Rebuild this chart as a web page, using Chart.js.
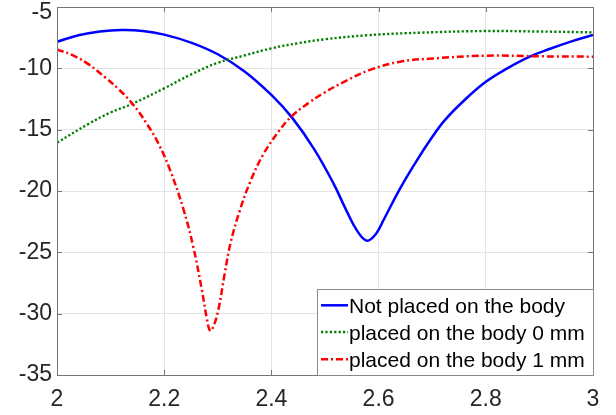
<!DOCTYPE html>
<html><head><meta charset="utf-8">
<script src="https://cdn.jsdelivr.net/npm/chart.js@4"></script>
<style>html,body{margin:0;padding:0;background:#fff}canvas{display:block}</style>
</head><body>
<canvas id="c" width="616" height="415"></canvas>
<script>
const seriesNames = ['Not placed on the body', 'placed on the body 0 mm', 'placed on the body 1 mm'];

const notPlacedX = [2.00, 2.04, 2.08, 2.12, 2.16, 2.20, 2.25, 2.30, 2.35, 2.40, 2.44, 2.48, 2.516, 2.54, 2.56, 2.578, 2.595, 2.61, 2.64, 2.67, 2.70, 2.724, 2.76, 2.80, 2.84, 2.88, 2.92, 2.96, 3.00];
const notPlacedY = [-7.83, -7.30, -7.00, -6.88, -6.95, -7.25, -7.90, -8.85, -10.25, -12.17, -14.10, -16.60, -19.40, -21.60, -23.25, -24.05, -23.50, -22.30, -19.80, -17.60, -15.60, -14.20, -12.60, -11.10, -10.00, -9.08, -8.40, -7.80, -7.28];

const body0X = [2.00, 2.06, 2.10, 2.14, 2.20, 2.25, 2.30, 2.35, 2.40, 2.45, 2.50, 2.58, 2.68, 2.80, 2.90, 3.00];
const body0Y = [-16.06, -14.50, -13.60, -12.90, -11.63, -10.50, -9.55, -8.95, -8.37, -7.95, -7.63, -7.30, -7.09, -6.96, -7.00, -7.07];

const body1X = [2.00, 2.03, 2.06, 2.09, 2.115, 2.142, 2.168, 2.19, 2.211, 2.236, 2.254, 2.27, 2.28, 2.286, 2.293, 2.301, 2.313, 2.324, 2.341, 2.36, 2.385, 2.416, 2.437, 2.47, 2.497, 2.54, 2.584, 2.64, 2.70, 2.80, 2.90, 3.00];
const body1Y = [-8.45, -8.95, -9.70, -10.75, -11.70, -12.95, -14.55, -16.20, -18.30, -21.50, -24.50, -28.00, -30.50, -31.40, -30.90, -29.70, -26.70, -24.20, -21.60, -19.30, -17.00, -15.00, -13.94, -12.80, -12.03, -11.00, -10.13, -9.46, -9.20, -8.97, -9.02, -9.05];

const xTicks = [2, 2.2, 2.4, 2.6, 2.8, 3];
const yTicks = [-35, -30, -25, -20, -15, -10, -5];

const pts = (xs, ys) => xs.map((x, i) => ({x: x, y: ys[i]}));
const fmt = v => String(Number(v.toFixed(1)));

const decor = {
  id: 'decor',
  beforeDraw(chart) {
    const ys = chart.scales.y;
    const items = ys.getLabelItems(chart.chartArea);
    items.forEach(it => {
      if (it.label === '-5' && !it._shifted) { it.options.translation[1] += 6; it._shifted = true; }
    });
  },
  afterDraw(chart) {
    const {ctx, chartArea: a} = chart;
    const xs = chart.scales.x, ys = chart.scales.y;
    ctx.save();
    ctx.strokeStyle = '#767676';
    ctx.lineWidth = 1;
    ctx.setLineDash([]);
    ctx.strokeRect(a.left + 0.5, a.top + 0.5, a.right - a.left, a.bottom - a.top);
    ctx.beginPath();
    xTicks.forEach(v => {
      const p = Math.round(xs.getPixelForValue(v)) + 0.5;
      ctx.moveTo(p, a.bottom); ctx.lineTo(p, a.bottom - 5);
      ctx.moveTo(p, a.top); ctx.lineTo(p, a.top + 5);
    });
    yTicks.forEach(v => {
      const p = Math.round(ys.getPixelForValue(v)) + 0.5;
      ctx.moveTo(a.left, p); ctx.lineTo(a.left + 5, p);
      ctx.moveTo(a.right, p); ctx.lineTo(a.right - 5, p);
    });
    ctx.stroke();

    // legend inside plot, lower right
    const w = 276, h = 86;
    const lx = a.right - w, ly = a.bottom - h;
    ctx.fillStyle = '#fff';
    ctx.fillRect(lx, ly, w, h);
    ctx.strokeStyle = '#8a8a8a';
    ctx.strokeRect(lx + 0.5, ly + 0.5, w, h);
    ctx.font = '21px "Liberation Sans", Arial, sans-serif';
    ctx.textBaseline = 'alphabetic';
    ctx.textAlign = 'left';
    const base = [24.3, 51, 78.3];
    chart.data.datasets.forEach((ds, i) => {
      const by = ly + base[i];
      ctx.strokeStyle = ds.borderColor;
      ctx.lineWidth = ds.borderWidth;
      ctx.setLineDash(ds.borderDash || []);
      ctx.beginPath();
      ctx.moveTo(lx + 4, by - 8);
      ctx.lineTo(lx + 31, by - 8);
      ctx.stroke();
      ctx.setLineDash([]);
      ctx.fillStyle = '#000';
      ctx.fillText(ds.label, lx + 32, by);
    });
    ctx.restore();
  }
};

new Chart(document.getElementById('c'), {
  type: 'line',
  data: {
    datasets: [
      {label: seriesNames[0], data: pts(notPlacedX, notPlacedY), borderColor: '#0000ff', borderWidth: 2.5, order: 3},
      {label: seriesNames[1], data: pts(body0X, body0Y), borderColor: '#008000', borderWidth: 2.4, borderDash: [2.2, 2.2], order: 2},
      {label: seriesNames[2], data: pts(body1X, body1Y), borderColor: '#ff0000', borderWidth: 2.5, borderDash: [7, 3, 2, 3], order: 1}
    ]
  },
  options: {
    responsive: false,
    animation: false,
    devicePixelRatio: 1,
    layout: {padding: {top: 7, right: 23, left: 0, bottom: 0}},
    elements: {
      point: {radius: 0},
      line: {tension: 0.4, fill: false, borderCapStyle: 'butt'}
    },
    plugins: {legend: {display: false}, tooltip: {enabled: false}},
    scales: {
      x: {
        type: 'linear', min: 2, max: 3,
        afterBuildTicks: s => { s.ticks = xTicks.map(v => ({value: v})); },
        afterFit: s => { s.height = 40; s.paddingLeft = 0; s.paddingRight = 0; },
        grid: {color: '#e4e4e4', lineWidth: 1, drawTicks: false},
        border: {display: false},
        ticks: {
          callback: v => fmt(v), padding: 11, maxRotation: 0, autoSkip: false,
          color: '#262626', font: {family: '"Liberation Sans", Arial, sans-serif', size: 23}
        }
      },
      y: {
        type: 'linear', min: -35, max: -5,
        afterBuildTicks: s => { s.ticks = yTicks.map(v => ({value: v})); },
        afterFit: s => { s.width = 57; s.paddingTop = 0; s.paddingBottom = 0; },
        grid: {color: '#e4e4e4', lineWidth: 1, drawTicks: false},
        border: {display: false},
        ticks: {
          callback: v => fmt(v), padding: 5, autoSkip: false,
          color: '#262626', font: {family: '"Liberation Sans", Arial, sans-serif', size: 23}
        }
      }
    }
  },
  plugins: [decor]
});
</script>
</body></html>
